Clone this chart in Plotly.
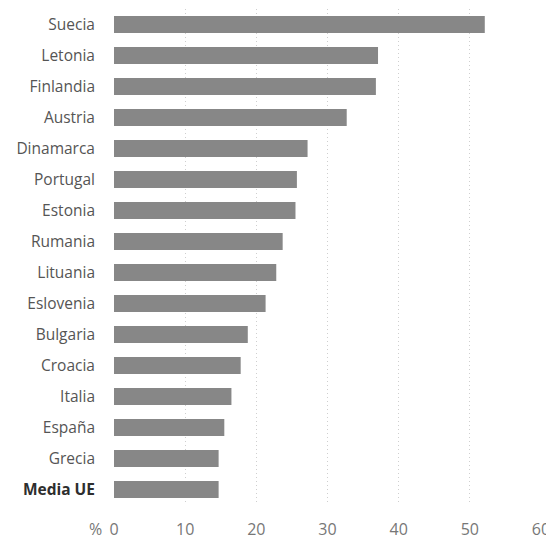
import plotly.graph_objects as go

countries = ["Suecia", "Letonia", "Finlandia", "Austria", "Dinamarca", "Portugal",
             "Estonia", "Rumania", "Lituania", "Eslovenia", "Bulgaria", "Croacia",
             "Italia", "España", "Grecia", "Media UE"]
values = [52.1, 37.1, 36.8, 32.7, 27.2, 25.7, 25.5, 23.7, 22.8, 21.3, 18.8, 17.8,
          16.5, 15.5, 14.7, 14.7]
x_ticks = [0, 10, 20, 30, 40, 50, 60]

labels = [c if c != "Media UE" else '<span style="color:#2e2e2e"><b>Media UE</b></span>'
          for c in countries]

fig = go.Figure(go.Bar(
    x=values, y=countries, orientation="h",
    marker=dict(color="#878787", line=dict(width=0)),
))

fig.update_layout(
    width=546, height=534,
    margin=dict(l=106, r=13, t=1, b=37),
    paper_bgcolor="white", plot_bgcolor="white",
    showlegend=False,
    font=dict(family="Open Sans", color="#555555", size=15),
    xaxis=dict(range=[0, 60], tickvals=x_ticks, ticktext=[str(t) for t in x_ticks],
               showgrid=True, gridcolor="#cfcfcf", griddash="1px,3px", gridwidth=1,
               zeroline=False, showline=False, ticks="", automargin=False,
               tickfont=dict(size=16, color="#777777"), ticklabelstandoff=13),
    yaxis=dict(categoryorder="array", categoryarray=countries[::-1],
               tickvals=countries, ticktext=labels,
               showgrid=False, zeroline=False, showline=False, ticks="",
               automargin=False,
               tickfont=dict(size=15.5, color="#555555"), ticklabelstandoff=18),
    bargap=0.45,
)

fig.add_annotation(text="%", xref="paper", yref="paper", x=0, y=0,
                   xanchor="right", yanchor="middle", xshift=-10, yshift=-24,
                   showarrow=False, font=dict(size=16, color="#777777"))

fig.write_html("out.html")
